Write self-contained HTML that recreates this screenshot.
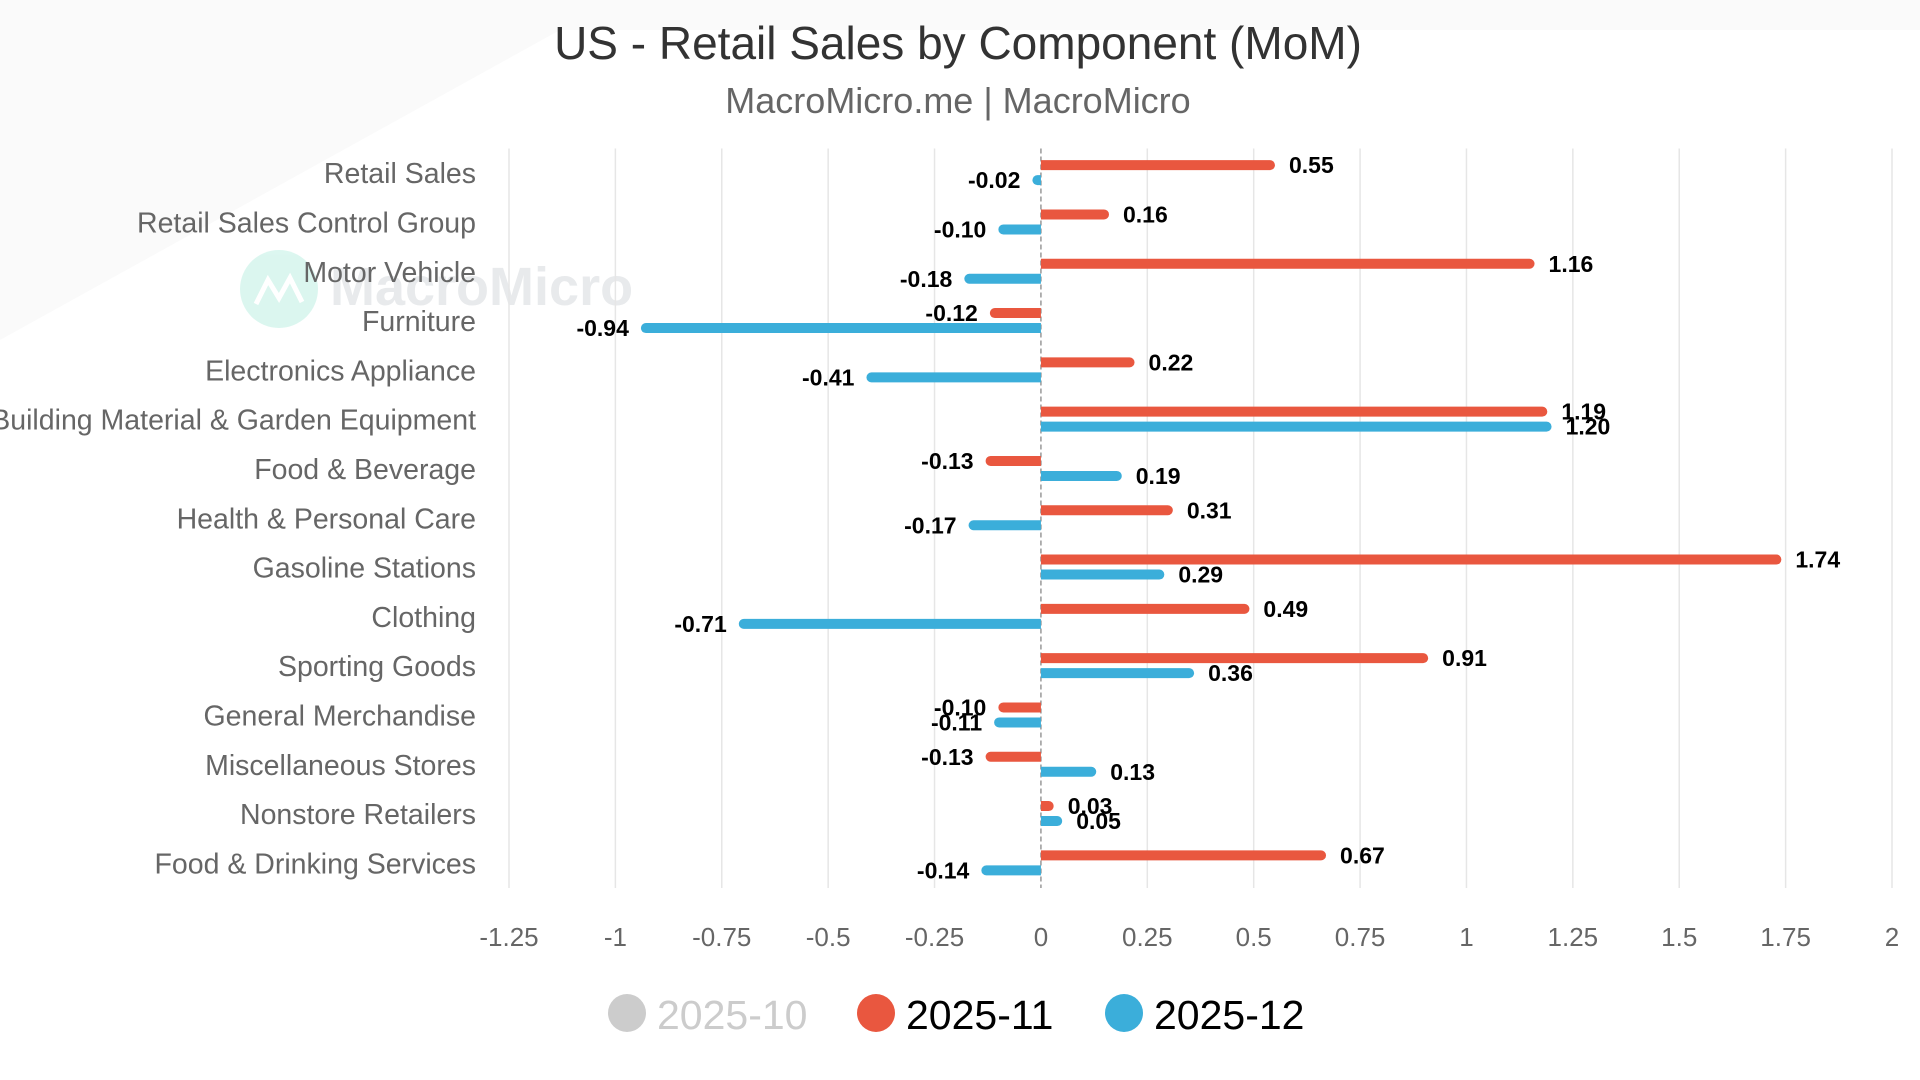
<!DOCTYPE html>
<html><head><meta charset="utf-8"><style>
html,body{margin:0;padding:0;background:#fff;width:1920px;height:1080px;overflow:hidden}
svg{display:block;font-family:"Liberation Sans",Arial,sans-serif}
</style></head><body>
<svg id="chart" width="1920" height="1080" viewBox="0 0 1920 1080">
<polygon points="0,0 1920,0 1920,30 560,30 0,340" fill="#fafafa"/>
<text x="958" y="59" text-anchor="middle" font-size="46" fill="#333">US - Retail Sales by Component (MoM)</text>
<text x="958" y="113" text-anchor="middle" font-size="36" fill="#666">MacroMicro.me | MacroMicro</text>
<g opacity="0.9">
<circle cx="279" cy="289" r="39" fill="#d8f6ee"/>
<polyline points="256,304 268,280 279,298 290,278 302,302" fill="none" stroke="#fff" stroke-width="5"/>
<text x="330" y="305" font-size="54" font-weight="bold" fill="#e6e8ea">MacroMicro</text>
</g>
<g id="grid"></g>
<g id="bars"></g>
<g id="labels"></g>
<g id="legend"></g>
</svg>
<script>
const categories=["Retail Sales","Retail Sales Control Group","Motor Vehicle","Furniture","Electronics Appliance","Building Material & Garden Equipment","Food & Beverage","Health & Personal Care","Gasoline Stations","Clothing","Sporting Goods","General Merchandise","Miscellaneous Stores","Nonstore Retailers","Food & Drinking Services"];
const nov=[0.55,0.16,1.16,-0.12,0.22,1.19,-0.13,0.31,1.74,0.49,0.91,-0.10,-0.13,0.03,0.67];
const dec=[-0.02,-0.10,-0.18,-0.94,-0.41,1.20,0.19,-0.17,0.29,-0.71,0.36,-0.11,0.13,0.05,-0.14];
const ticks=[-1.25,-1,-0.75,-0.5,-0.25,0,0.25,0.5,0.75,1,1.25,1.5,1.75,2];
const tickLabels=["-1.25","-1","-0.75","-0.5","-0.25","0","0.25","0.5","0.75","1","1.25","1.5","1.75","2"];
const legendNames=["2025-10","2025-11","2025-12"];

const NS="http://www.w3.org/2000/svg";
const X0=509,X1=1892,XMIN=-1.25,XMAX=2,TOP=148.5,BOT=888;
const xs=v=>X0+(v-XMIN)/(XMAX-XMIN)*(X1-X0);
const band=(BOT-TOP)/categories.length;
const yc=i=>TOP+band*(i+0.5);
function mk(tag,attrs,parent){const e=document.createElementNS(NS,tag);for(const k in attrs)e.setAttribute(k,attrs[k]);parent.appendChild(e);return e;}
const grid=document.getElementById('grid'),bars=document.getElementById('bars'),labels=document.getElementById('labels'),legend=document.getElementById('legend');
ticks.forEach((t,i)=>{
  const x=xs(t);
  if(t!==0){const l=mk('line',{x1:x,x2:x,y1:TOP,y2:BOT,stroke:'#e6e6e6','stroke-width':1.5},grid);
  
  }
  const tx=mk('text',{x:x,y:946,'text-anchor':'middle','font-size':26,fill:'#666'},grid);
  tx.textContent=tickLabels[i];
  
  
});
categories.forEach((c,i)=>{
  const t=mk('text',{x:476,y:yc(i)+10,'text-anchor':'end','font-size':28.5,fill:'#666'},grid);
  t.textContent=c;
  
  
});
function drawBar(v,y,color,name){
  const x0=xs(0),x1=xs(v),h=10,r=5;
  const w=Math.abs(x1-x0);
  let d;
  const rr=Math.min(r,w);
  if(v>=0){d=`M${x0},${y-h/2} H${x1-rr} A${rr},${r} 0 0 1 ${x1-rr},${y+h/2} H${x0} Z`;}
  else{d=`M${x0},${y-h/2} H${x1+rr} A${rr},${r} 0 0 0 ${x1+rr},${y+h/2} H${x0} Z`;}
  const p=mk('path',{d:d,fill:color},bars);
  
  
  const lx=v>=0?x1+14:x1-12;
  const t=mk('text',{x:lx,y:y+8,'text-anchor':v>=0?'start':'end','font-size':23,'font-weight':'bold',fill:'#000'},labels);
  t.textContent=v.toFixed(2);
  
  
}
nov.forEach((v,i)=>drawBar(v,yc(i)-8,'#e9573f','bar-2025-11'));
dec.forEach((v,i)=>drawBar(v,yc(i)+7,'#3baeda','bar-2025-12'));
const zl=mk('line',{x1:xs(0),x2:xs(0),y1:TOP,y2:BOT,stroke:'#999','stroke-width':1.5,'stroke-dasharray':'5,3'},grid);


const lcol=['#cccccc','#e9573f','#3baeda'],ltxt=['#cccccc','#000','#000'],lx=[627,876,1124];
legendNames.forEach((n,i)=>{
  const g=mk('g',{},legend);
  
  
  mk('circle',{cx:lx[i],cy:1013,r:19,fill:lcol[i]},g);
  const t=mk('text',{x:lx[i]+30,y:1029,'font-size':41,fill:ltxt[i]},g);
  t.textContent=n;
});
</script>
</body></html>
